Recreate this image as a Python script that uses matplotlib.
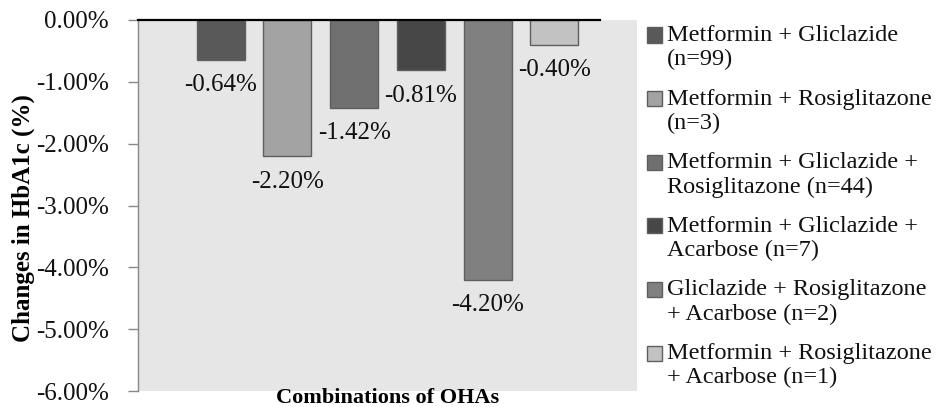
import matplotlib.pyplot as plt
from matplotlib.patches import Rectangle
from matplotlib.ticker import FuncFormatter

# Data (change in HbA1c, %)
combos = ['Metformin + Gliclazide\n(n=99)',
          'Metformin + Rosiglitazone\n(n=3)',
          'Metformin + Gliclazide +\nRosiglitazone (n=44)',
          'Metformin + Gliclazide +\nAcarbose (n=7)',
          'Gliclazide + Rosiglitazone\n+ Acarbose (n=2)',
          'Metformin + Rosiglitazone\n+ Acarbose (n=1)']
changes = [-0.64, -2.20, -1.42, -0.81, -4.20, -0.40]
yticks = [0, -1, -2, -3, -4, -5, -6]

colors = ['#595959', '#a3a3a3', '#707070', '#474747', '#808080', '#c2c2c2']

plt.rcParams['font.family'] = ['Liberation Serif', 'DejaVu Serif']

W, H = 940, 407
fig = plt.figure(figsize=(W / 100, H / 100), dpi=100)
ax = fig.add_axes([138 / W, (H - 391) / H, (637 - 138) / W, (391 - 20) / H])
ax.set_facecolor('#e6e6e6')

x = list(range(len(changes)))
ax.bar(x, changes, width=0.72, color=colors, edgecolor='#5e5e5e', linewidth=1, zorder=2)

# value labels under each bar
for xi, v in zip(x, changes):
    ax.annotate(f'{v:.2f}%', (xi, v), xytext=(0, -18.5), textcoords='offset points',
                ha='center', va='center', fontsize=18, color='#111111')

ax.set_xlim(-1.24, 6.24)
ax.set_ylim(-6, 0)
ax.set_yticks(yticks)
ax.yaxis.set_major_formatter(FuncFormatter(lambda v, p: f'{v:.2f}%'))
ax.tick_params(axis='y', direction='out', length=7, width=1, color='#888888',
               labelsize=18, pad=14, labelcolor='#111111')
ax.set_xticks([])

for s in ['top', 'right', 'bottom']:
    ax.spines[s].set_visible(False)
ax.spines['left'].set_color('#888888')
ax.spines['left'].set_linewidth(1)

# zero line
ax.axhline(0, xmin=0, xmax=0.926, color='black', linewidth=1.6, zorder=3, clip_on=False)

# axis titles
fig.text(23 / W, 1 - 218 / H, 'Changes in HbA1c (%)', rotation=90, ha='center', va='center',
         fontsize=18, fontweight='bold')
fig.text(388 / W, 1 - 398 / H, 'Combinations of OHAs', ha='center', va='center',
         fontsize=16, fontweight='bold')

# legend drawn by hand so the square sits on the first line
for i, (lab, c) in enumerate(zip(combos, colors)):
    yc = 35 + i * 63.6
    fig.patches.append(Rectangle((647 / W, 1 - (yc + 7.5) / H), 15 / W, 15 / H,
                                 transform=fig.transFigure, facecolor=c,
                                 edgecolor='#5e5e5e', linewidth=1))
    fig.text(667 / W, 1 - (yc - 10) / H, lab, ha='left', va='top', fontsize=17.5,
             linespacing=1.2, color='#111111')

fig.savefig('out.png', dpi=100)
